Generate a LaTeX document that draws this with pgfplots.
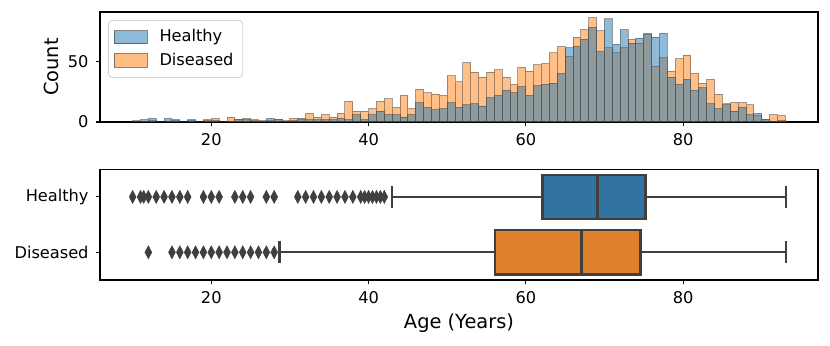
\documentclass[border=0pt]{standalone}
\usepackage{fontspec}
\setmainfont{DejaVu Sans}
\usepackage{pgfplots}
\pgfplotsset{compat=1.18}
\usepackage{pgfplotstable}
\usepgfplotslibrary{statistics}
\usetikzlibrary{plotmarks}

\definecolor{hblue}{HTML}{1F77B4}
\definecolor{dorange}{HTML}{FF7F0E}
\definecolor{boxblue}{HTML}{3274A1}
\definecolor{boxorange}{HTML}{E1812C}
\definecolor{boxgray}{HTML}{3F3F3F}

% age histogram, 1-year bins (left edge), counts per group
\pgfplotstableread{
bin healthy diseased
10 1 0
11 2 0
12 3 1
13 0 0
14 3 0
15 2 1
16 0 0
17 2 1
18 0 0
19 1 2
20 1 3
21 0 0
22 0 4
23 2 2
24 2 3
25 1 2
26 0 1
27 3 1
28 2 2
29 0 1
30 1 3
31 3 2
32 2 7
33 2 4
34 2 6
35 2 4
36 3 7
37 2 17
38 6 9
39 2 9
40 6 11
41 9 17
42 6 19
43 6 12
44 4 22
45 6 11
46 16 27
47 12 24
48 10 23
49 11 22
50 16 38
51 12 33
52 14 49
53 15 41
54 13 37
55 20 41
56 22 43
57 26 37
58 24 31
59 29 45
60 22 42
61 30 47
62 31 48
63 32 57
64 40 62
65 61 54
66 62 70
67 68 76
68 78 86
69 58 75
70 85 61
71 64 57
72 76 61
73 65 68
74 69 65
75 73 72
76 70 46
77 73 53
78 37 42
79 31 52
80 35 55
81 26 40
82 28 32
83 15 35
84 11 23
85 14 15
86 9 16
87 12 16
88 6 14
89 7 5
90 2 2
91 0 6
92 1 5
93 0 0
}\histdata

\begin{document}
\begin{tikzpicture}
\path[use as bounding box] (-50pt,-33pt) rectangle (365pt,140pt);
\pgfplotsset{
  agestyle/.style={
    scale only axis, width=359pt,
    xmin=5.85, xmax=97.15, xtick={20,40,60,80},
    tick align=outside, major tick length=2.2pt,
    xtick pos=bottom, ytick pos=left,
    axis line style={line width=0.6pt},
    tick style={line width=0.6pt, black},
    tick label style={font=\fontsize{8.1}{9.7}\selectfont},
    label style={font=\fontsize{9.7}{11.6}\selectfont},
    /pgf/number format/assume math mode=true,
  },
  histbar/.style={ybar interval, fill=#1, fill opacity=0.5, draw=black!80, draw opacity=0.45, line width=0.5pt, forget plot},
  histleg/.style={legend image code/.code={\draw[sharp corners, fill=#1, fill opacity=0.5, draw=black!80, draw opacity=0.6, line width=0.5pt] (0pt,-3.3pt) rectangle (16.5pt,3.3pt);
    \path (20.5pt,0pt);}},
}
\begin{axis}[agestyle, at={(0pt,79pt)}, anchor=south west, height=55pt,
    ymin=0, ymax=90.6, ytick={0,50},
    ylabel={Count}, ylabel style={at={(axis description cs:-0.068,0.5)}, anchor=center},
    legend style={at={(rel axis cs:0,1)}, anchor=north west, xshift=4pt, yshift=-4pt,
      draw=black!18, rounded corners=2pt, fill=white, fill opacity=0.8, text opacity=1,
      font=\fontsize{8.1}{9.7}\selectfont, row sep=0pt, inner sep=2.6pt},
    legend cell align=left]
\addlegendimage{histleg=hblue}
\addlegendentry{Healthy}
\addlegendimage{histleg=dorange}
\addlegendentry{Diseased}
\addplot[histbar=dorange] table[x=bin, y=diseased] {\histdata};
\addplot[histbar=hblue] table[x=bin, y=healthy] {\histdata};
\end{axis}

\begin{axis}[agestyle, at={(0pt,0pt)}, anchor=south west, height=55.4pt,
    ymin=-0.5, ymax=1.5, y dir=reverse, ytick={0,1}, yticklabels={Healthy,Diseased},
    xlabel={Age (Years)}, xlabel style={at={(axis description cs:0.5,-0.388)}, anchor=center},
    boxplot/draw direction=x]
\addplot[boxplot prepared={lower whisker=43, lower quartile=62.1, median=69.1,
    upper quartile=75.2, upper whisker=93.1, draw position=0, box extend=0.8, whisker extend=0.4},
    fill=boxblue, draw=boxgray, line width=1.2pt,
    mark=diamond*, mark size=3.3pt, mark options={fill=boxgray, draw=boxgray, line width=0.2pt, xscale=0.7}]
  coordinates {(0,10)(0,11)(0,11.4)(0,12)(0,13)(0,14)(0,15)(0,16)(0,17)(0,19)(0,20)(0,21)
    (0,23)(0,24)(0,25)(0,27)(0,28)(0,31)(0,32)(0,33)(0,34)(0,35)(0,36)(0,37)(0,38)
    (0,39)(0,39.5)(0,40)(0,40.5)(0,41)(0,41.5)(0,42)};
\addplot[boxplot prepared={lower whisker=28.7, lower quartile=56.1, median=67.1,
    upper quartile=74.6, upper whisker=93.1, draw position=1, box extend=0.8, whisker extend=0.4},
    fill=boxorange, draw=boxgray, line width=1.2pt,
    mark=diamond*, mark size=3.3pt, mark options={fill=boxgray, draw=boxgray, line width=0.2pt, xscale=0.7}]
  coordinates {(0,12)(0,15)(0,16)(0,17)(0,18)(0,19)(0,20)(0,21)(0,22)(0,23)(0,24)
    (0,25)(0,26)(0,27)(0,28)};
\end{axis}
\end{tikzpicture}
\end{document}
